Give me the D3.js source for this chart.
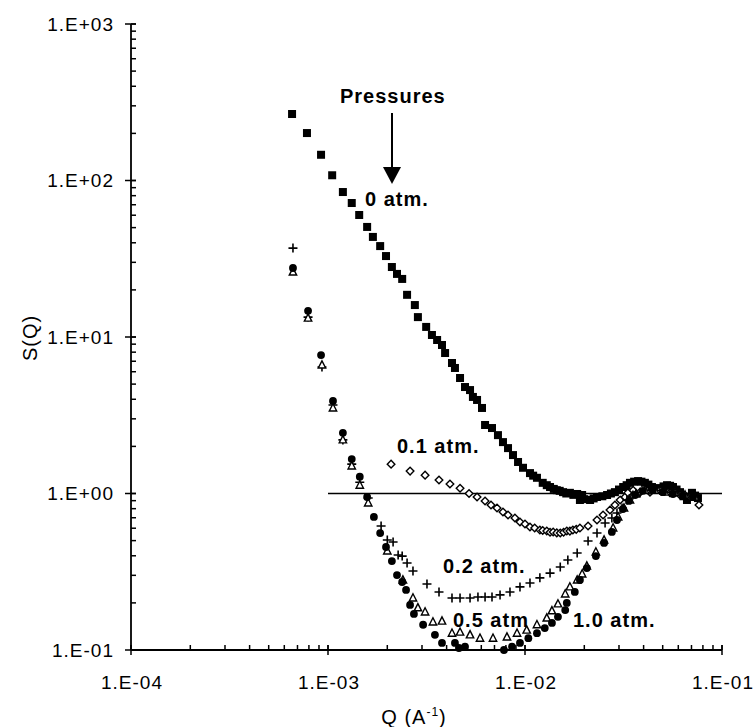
<!DOCTYPE html>
<html>
<head>
<meta charset="utf-8">
<script src="https://cdn.jsdelivr.net/npm/d3@7"></script>
<style>
  body { margin: 0; background: #fff; }
  text { font-family: "Liberation Sans", Arial, sans-serif; }
</style>
</head>
<body>
<svg id="svg"></svg>
<script>
const width = 756;
const height = 727;
const margin = { top: 24, right: 34, bottom: 77, left: 131 };

// data: [Q, S(Q)]
const atm0 = [[6.57e-4,266],[7.82e-4,201],[9.22e-4,146],[1.05e-3,108],[1.19e-3,84.4],[1.32e-3,71.8],[1.44e-3,60.2],[1.58e-3,50.5],[1.69e-3,43.6],[1.84e-3,38.1],[1.97e-3,32.9],[2.11e-3,28.0],[2.24e-3,25.3],[2.38e-3,23.5],[2.52e-3,18.6],[2.76e-3,16.0],[2.86e-3,13.4],[3.15e-3,11.6],[3.37e-3,10.3],[3.58e-3,9.57],[3.79e-3,8.89],[3.93e-3,7.90],[4.26e-3,6.82],[4.41e-3,6.34],[4.68e-3,5.47],[4.96e-3,4.79],[5.26e-3,4.58],[5.44e-3,4.14],[5.71e-3,3.96],[6.05e-3,3.52],[6.27e-3,2.74],[6.80e-3,2.62],[7.29e-3,2.36],[7.73e-3,2.13],[8.20e-3,1.95],[8.69e-3,1.76],[9.22e-3,1.59],[9.77e-3,1.46],[1.06e-2,1.35],[1.10e-2,1.30],[1.15e-2,1.26],[1.23e-2,1.17],[1.29e-2,1.13],[1.34e-2,1.10],[1.40e-2,1.07],[1.45e-2,1.05],[1.50e-2,1.04],[1.56e-2,1.02],[1.62e-2,1.00],[1.69e-2,1.01],[1.76e-2,0.98],[1.84e-2,0.993],[1.90e-2,0.909],[1.95e-2,0.978],[2.00e-2,0.92],[2.14e-2,0.909],[2.23e-2,0.93],[2.32e-2,0.950],[2.47e-2,0.96],[2.61e-2,0.978],[2.73e-2,1.00],[2.86e-2,1.02],[3.00e-2,1.06],[3.15e-2,1.10],[3.28e-2,1.13],[3.41e-2,1.17],[3.58e-2,1.19],[3.75e-2,1.20],[3.90e-2,1.19],[4.06e-2,1.17],[4.23e-2,1.14],[4.41e-2,1.10],[4.62e-2,1.08],[4.84e-2,1.08],[5.05e-2,1.11],[5.26e-2,1.13],[5.45e-2,1.12],[5.64e-2,1.10],[5.88e-2,1.06],[6.12e-2,1.02],[6.38e-2,0.96],[6.64e-2,0.909],[6.84e-2,0.95],[7.04e-2,1.01],[7.30e-2,0.97],[7.55e-2,0.935]];

const atm01 = [[2.09e-3,1.54],[2.61e-3,1.39],[3.11e-3,1.31],[3.66e-3,1.22],[4.16e-3,1.15],[4.68e-3,1.08],[5.20e-3,1.00],[5.71e-3,0.950],[6.27e-3,0.896],[6.72e-3,0.844],[7.21e-3,0.808],[7.73e-3,0.762],[8.20e-3,0.729],[8.89e-3,0.697],[9.43e-3,0.657],[1.00e-2,0.638],[1.06e-2,0.611],[1.12e-2,0.602],[1.19e-2,0.584],[1.23e-2,0.580],[1.29e-2,0.576],[1.34e-2,0.565],[1.39e-2,0.568],[1.45e-2,0.560],[1.51e-2,0.559],[1.57e-2,0.565],[1.63e-2,0.576],[1.69e-2,0.575],[1.75e-2,0.584],[1.82e-2,0.590],[1.90e-2,0.602],[2.09e-2,0.620],[2.32e-2,0.677],[2.49e-2,0.729],[2.70e-2,0.785],[2.86e-2,0.844],[3.04e-2,0.909],[3.22e-2,0.950],[3.33e-2,1.01],[3.54e-2,1.05],[3.84e-2,1.02],[4.31e-2,1.02],[4.84e-2,1.05],[5.44e-2,1.01],[6.12e-2,0.978],[6.88e-2,0.950],[7.64e-2,0.844]];

const atm02 = [[6.64e-4,37.0],[7.92e-4,13.4],[9.32e-4,6.43],[1.06e-3,3.68],[1.19e-3,2.20],[1.32e-3,1.54],[1.45e-3,1.18],[1.60e-3,0.936],[1.86e-3,0.620],[2.00e-3,0.504],[2.14e-3,0.490],[2.27e-3,0.405],[2.38e-3,0.398],[2.52e-3,0.360],[2.70e-3,0.320],[3.18e-3,0.264],[3.66e-3,0.235],[4.26e-3,0.215],[4.68e-3,0.215],[5.26e-3,0.215],[5.77e-3,0.218],[6.27e-3,0.218],[6.80e-3,0.218],[7.47e-3,0.225],[8.39e-3,0.235],[9.43e-3,0.253],[1.06e-2,0.268],[1.19e-2,0.289],[1.34e-2,0.310],[1.51e-2,0.339],[1.65e-2,0.376],[1.84e-2,0.417],[2.09e-2,0.497],[2.32e-2,0.559],[2.55e-2,0.648],[2.76e-2,0.697],[2.93e-2,0.751],[3.11e-2,0.808],[3.29e-2,0.909],[3.53e-2,0.978],[3.84e-2,1.02],[4.31e-2,1.05],[4.84e-2,1.05],[5.44e-2,1.02],[6.12e-2,0.993],[6.88e-2,0.964]];

const atm05 = [[6.64e-4,26.0],[7.92e-4,13.2],[9.32e-4,6.62],[1.06e-3,3.52],[1.19e-3,2.20],[1.32e-3,1.50],[1.45e-3,1.13],[1.60e-3,0.870],[2.00e-3,0.429],[2.40e-3,0.280],[2.70e-3,0.215],[2.86e-3,0.186],[3.11e-3,0.175],[3.41e-3,0.151],[3.79e-3,0.153],[4.26e-3,0.128],[4.68e-3,0.130],[5.26e-3,0.125],[5.91e-3,0.119],[6.88e-3,0.119],[8.10e-3,0.121],[9.11e-3,0.128],[1.02e-2,0.134],[1.15e-2,0.145],[1.29e-2,0.160],[1.37e-2,0.178],[1.47e-2,0.197],[1.60e-2,0.228],[1.69e-2,0.253],[1.84e-2,0.280],[1.95e-2,0.306],[2.06e-2,0.344],[2.29e-2,0.423],[2.52e-2,0.504],[2.80e-2,0.602],[2.97e-2,0.708],[3.18e-2,0.808],[3.41e-2,0.909],[3.66e-2,0.993],[4.07e-2,1.05],[4.57e-2,1.05],[5.14e-2,1.02],[5.77e-2,1.01],[6.49e-2,0.978],[7.29e-2,0.950]];

const atm10 = [[6.64e-4,27.6],[7.92e-4,14.7],[9.22e-4,7.67],[1.06e-3,3.90],[1.19e-3,2.44],[1.32e-3,1.66],[1.45e-3,1.28],[1.58e-3,0.950],[1.71e-3,0.708],[1.84e-3,0.559],[1.97e-3,0.455],[2.11e-3,0.370],[2.24e-3,0.301],[2.38e-3,0.272],[2.49e-3,0.242],[2.61e-3,0.194],[2.73e-3,0.170],[3.04e-3,0.145],[3.49e-3,0.125],[3.79e-3,0.111],[4.41e-3,0.111],[4.62e-3,0.103],[4.96e-3,0.105],[7.82e-3,0.100],[8.59e-3,0.105],[9.43e-3,0.111],[1.04e-2,0.119],[1.15e-2,0.128],[1.26e-2,0.138],[1.37e-2,0.149],[1.47e-2,0.163],[1.60e-2,0.180],[1.63e-2,0.200],[1.79e-2,0.235],[1.90e-2,0.280],[2.06e-2,0.334],[2.29e-2,0.398],[2.52e-2,0.483],[2.76e-2,0.568],[2.93e-2,0.677],[3.14e-2,0.796],[3.37e-2,0.896],[3.62e-2,0.978],[3.97e-2,1.04],[4.46e-2,1.05],[5.02e-2,1.02],[5.64e-2,0.993],[6.34e-2,0.964],[7.13e-2,0.950]];

const yMajor = [1e-1, 1e0, 1e1, 1e2, 1e3];
const xMajor = [1e-4, 1e-3, 1e-2, 1e-1];

const svg = d3.select("#svg")
    .attr("width", width)
    .attr("height", height)
    .attr("viewBox", [0, 0, width, height]);

svg.append("rect").attr("width", width).attr("height", height).attr("fill", "#fff");

const xScale = d3.scaleLog()
    .domain([1e-4, 1e-1])
    .range([margin.left, width - margin.right]);

const yScale = d3.scaleLog()
    .domain([1e-1, 1e3])
    .range([height - margin.bottom, margin.top]);

// 1.E+03 style labels
const sciFmt = d => {
    const e = Math.round(Math.log10(d));
    return "1.E" + (e < 0 ? "-" : "+") + String(Math.abs(e)).padStart(2, "0");
};

const x0 = margin.left;
const y0 = height - margin.bottom;

// log scale ticks = 1..9 x 10^k, used for the inner marks
const yMinor = yScale.ticks();
const xMinor = xScale.ticks();

const axes = svg.append("g")
    .attr("stroke", "#000")
    .attr("stroke-width", 1.5);

axes.append("line")
    .attr("x1", x0).attr("x2", x0)
    .attr("y1", margin.top).attr("y2", y0)
    .attr("stroke-width", 1.8);
axes.append("line")
    .attr("x1", x0).attr("x2", width - margin.right)
    .attr("y1", y0).attr("y2", y0)
    .attr("stroke-width", 1.8);

axes.selectAll(".ymin")
    .data(yMinor)
    .enter()
    .append("line")
        .attr("class", "ymin")
        .attr("x1", x0).attr("x2", x0 + 5)
        .attr("y1", d => yScale(d)).attr("y2", d => yScale(d));

axes.selectAll(".ymaj")
    .data(yMajor)
    .enter()
    .append("line")
        .attr("class", "ymaj")
        .attr("x1", x0 - 6).attr("x2", x0 + 5)
        .attr("y1", d => yScale(d)).attr("y2", d => yScale(d));

axes.selectAll(".xmin")
    .data(xMinor)
    .enter()
    .append("line")
        .attr("class", "xmin")
        .attr("x1", d => xScale(d)).attr("x2", d => xScale(d))
        .attr("y1", y0).attr("y2", y0 - 5);

axes.selectAll(".xmaj")
    .data(xMajor)
    .enter()
    .append("line")
        .attr("class", "xmaj")
        .attr("x1", d => xScale(d)).attr("x2", d => xScale(d))
        .attr("y1", y0 - 5).attr("y2", y0 + 5);

svg.append("g")
    .selectAll("text")
    .data(yMajor)
    .enter()
    .append("text")
        .text(sciFmt)
        .attr("x", x0 - 17)
        .attr("y", d => yScale(d))
        .attr("dy", "0.36em")
        .attr("text-anchor", "end")
        .attr("font-size", "19px")
        .attr("letter-spacing", "1px");

svg.append("g")
    .selectAll("text")
    .data(xMajor)
    .enter()
    .append("text")
        .text(sciFmt)
        .attr("x", d => xScale(d) + 1)
        .attr("y", y0 + 39)
        .attr("text-anchor", "middle")
        .attr("font-size", "19px")
        .attr("letter-spacing", "1px");

// S = 1 reference line
svg.append("line")
    .attr("x1", xScale(1e-3))
    .attr("x2", xScale(1e-1))
    .attr("y1", yScale(1))
    .attr("y2", yScale(1))
    .attr("stroke", "#000")
    .attr("stroke-width", 1.5);

// markers
const plotSeries = (data, draw) => {
    const g = svg.append("g");
    g.selectAll("g")
        .data(data)
        .enter()
        .append("g")
            .attr("transform", d => `translate(${xScale(d[0])},${yScale(d[1])})`)
            .each(function () { draw(d3.select(this)); });
};

plotSeries(atm0, s => s.append("rect")
    .attr("x", -4).attr("y", -4).attr("width", 8).attr("height", 8)
    .attr("fill", "#000"));

plotSeries(atm01, s => s.append("path")
    .attr("d", "M0,-3.8L3.8,0L0,3.8L-3.8,0Z")
    .attr("fill", "#fff").attr("stroke", "#000").attr("stroke-width", 1.4));

plotSeries(atm02, s => s.append("path")
    .attr("d", "M-4.5,0H4.5M0,-4.5V4.5")
    .attr("stroke", "#000").attr("stroke-width", 1.6));

plotSeries(atm05, s => s.append("path")
    .attr("d", "M0,-4.2L3.7,3L-3.7,3Z")
    .attr("fill", "#fff").attr("stroke", "#000").attr("stroke-width", 1.4));

plotSeries(atm10, s => s.append("circle")
    .attr("r", 3.9)
    .attr("fill", "#000"));

// annotations
const note = (txt, x, y) => svg.append("text")
    .text(txt)
    .attr("x", x)
    .attr("y", y)
    .attr("font-size", "20px")
    .attr("font-weight", "bold")
    .attr("letter-spacing", "1px")
    .attr("fill", "#000");

note("Pressures", 340, 103);
note("0 atm.", 365, 206);
note("0.1 atm.", 397, 453);
note("0.2 atm.", 443, 573);
note("0.5 atm", 453, 627);
note("1.0 atm.", 573, 627);

// arrow
svg.append("line")
    .attr("x1", 392).attr("x2", 392)
    .attr("y1", 113).attr("y2", 170)
    .attr("stroke", "#000").attr("stroke-width", 2);
svg.append("path")
    .attr("d", "M383,167L401,167L392,184Z")
    .attr("fill", "#000");

// axis titles
const xTitle = svg.append("text")
    .attr("x", 414)
    .attr("y", 724)
    .attr("text-anchor", "middle")
    .attr("font-size", "20px")
    .attr("letter-spacing", "1px");
xTitle.append("tspan").text("Q (A");
xTitle.append("tspan").text("-1").attr("font-size", "12px").attr("dy", "-8");
xTitle.append("tspan").text(")").attr("dy", "8");

svg.append("text")
    .text("S(Q)")
    .attr("transform", `rotate(-90)`)
    .attr("x", -338)
    .attr("y", 37)
    .attr("text-anchor", "middle")
    .attr("font-size", "20px")
    .attr("letter-spacing", "1px");

svg.node();
</script>
</body>
</html>
